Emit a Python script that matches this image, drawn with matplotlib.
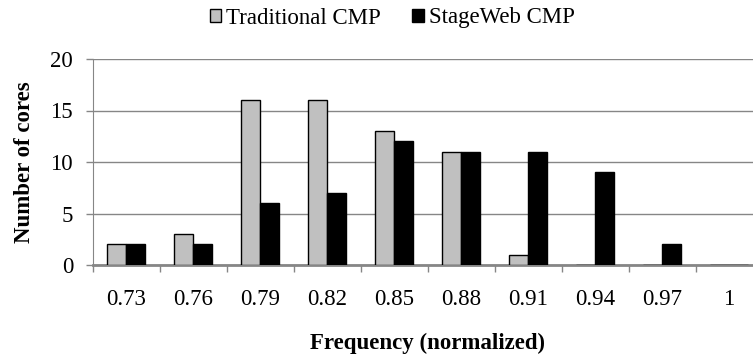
import matplotlib
matplotlib.use("Agg")
import matplotlib.pyplot as plt
import numpy as np

# core counts per normalized frequency bin
freqs = ["0.73", "0.76", "0.79", "0.82", "0.85", "0.88", "0.91", "0.94", "0.97", "1"]
traditional = [2, 3, 16, 16, 13, 11, 1, 0, 0, 0]
stageweb = [2, 2, 6, 7, 12, 11, 11, 9, 2, 0]

plt.rcParams["font.family"] = ["Liberation Serif", "DejaVu Serif"]
plt.rcParams["font.size"] = 16.5

fig = plt.figure(figsize=(7.53, 3.58), dpi=100)
# plot area runs a little past the right edge of the figure
ax = fig.add_axes([92.5 / 753, (358 - 265) / 358, 670 / 753, 206 / 358])

x = np.arange(len(freqs))
w = 0.29
grid_col = "#868686"
ax.bar(x - w / 2, traditional, w, color="#C0C0C0", edgecolor="black", linewidth=1.0,
       label="Traditional CMP", zorder=3)
ax.bar(x + w / 2, stageweb, w, color="black", edgecolor="black", linewidth=1.0,
       label="StageWeb CMP", zorder=3)

ax.set_xlim(-0.5, len(freqs) - 0.5)
ax.set_ylim(0, 20)
ax.set_yticks([0, 5, 10, 15, 20])
ax.yaxis.grid(True, color=grid_col, linewidth=1.0, zorder=0)
ax.set_axisbelow(True)

# category labels centred, tick marks on the bin boundaries
ax.set_xticks(x)
ax.set_xticklabels(freqs)
ax.tick_params(axis="x", length=0, pad=17)
ax.set_xticks(np.arange(len(freqs) + 1) - 0.5, minor=True)
ax.tick_params(axis="x", which="minor", length=5, color=grid_col, width=1.0)
ax.tick_params(axis="y", length=5, color=grid_col, width=1.0, pad=9)

for side in ["top", "right"]:
    ax.spines[side].set_visible(False)
ax.spines["left"].set_color(grid_col)
ax.spines["bottom"].set_color(grid_col)
ax.spines["bottom"].set_linewidth(2.0)

ax.set_ylabel("Number of cores", fontweight="bold", labelpad=11)
ax.set_xlabel("Frequency (normalized)", fontweight="bold", labelpad=17)

fig.legend(loc="center", bbox_to_anchor=(392 / 753, 1 - 18 / 358), ncol=2, frameon=False,
           handlelength=0.5, handleheight=0.5, handletextpad=0.2, columnspacing=1.4,
           borderaxespad=0)

fig.savefig("out.png", dpi=100)
